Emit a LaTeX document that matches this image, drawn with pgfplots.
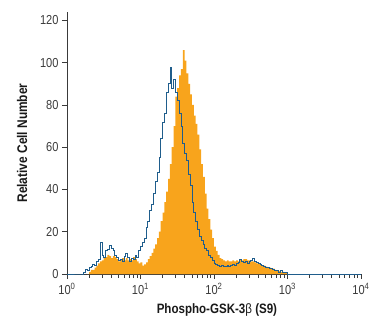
\documentclass[border=0pt]{standalone}
\usepackage{pgfplots}
\pgfplotsset{compat=1.18}
\usepackage{fontspec}
\setmainfont{Liberation Sans}[FakeStretch=0.85]
\definecolor{historange}{HTML}{F8A41C}
\definecolor{histblue}{HTML}{1F5D8C}
\definecolor{axgray}{HTML}{3A3A3A}
\begin{document}
\begin{tikzpicture}
\begin{axis}[
  scale only axis, width=294pt, height=262pt,
  xmin=0, xmax=4, ymin=0, ymax=124,
  axis x line*=bottom, axis y line*=left,
  axis line style={axgray, line width=0.8pt},
  every tick/.style={axgray, line width=0.6pt},
  tick align=outside,
  major tick length=5pt, minor tick length=4pt,
  xtick={0,1,2,3,4},
  xticklabels={10\textsuperscript{0},10\textsuperscript{1},10\textsuperscript{2},10\textsuperscript{3},10\textsuperscript{4}},
  minor xtick={0.30103,0.47712,0.60206,0.69897,0.77815,0.84510,0.90309,0.95424,
    1.30103,1.47712,1.60206,1.69897,1.77815,1.84510,1.90309,1.95424,
    2.30103,2.47712,2.60206,2.69897,2.77815,2.84510,2.90309,2.95424,
    3.30103,3.47712,3.60206,3.69897,3.77815,3.84510,3.90309,3.95424},
  ytick={0,20,40,60,80,100,120},
  /pgf/number format/assume math mode=true,
  tick label style={font=\fontsize{13}{15}\selectfont, text=axgray},
  xticklabel style={yshift=-1pt},
  xlabel={\textbf{Phospho-GSK-3{\mdseries β} (S9)}},
  ylabel={\textbf{Relative Cell Number}},
  label style={text=black!90},
  xlabel style={font=\fontsize{13.6}{15}\selectfont, at={(rel axis cs:0.51,-0.137)}, anchor=center},
  ylabel style={font=\fontsize{14}{16}\selectfont, at={(rel axis cs:-0.153,0.5)}, anchor=center},
  clip=false,
]
\addplot[const plot, fill=historange, draw=none] coordinates {
(0.275,0) (0.300,1) (0.325,2) (0.350,2) (0.375,3) (0.400,4) (0.425,5) (0.450,6)
(0.475,6.5) (0.500,7.5) (0.525,8) (0.550,9) (0.575,8.5) (0.600,7.5) (0.625,8.5)
(0.650,8) (0.675,7) (0.700,6) (0.725,7) (0.750,7.5) (0.775,6.5) (0.800,7.5)
(0.825,6.5) (0.850,7) (0.875,6.5) (0.900,8) (0.925,7) (0.950,6) (0.975,5)
(1.000,5.5) (1.025,4) (1.050,4.5) (1.075,5.5) (1.100,7) (1.125,8.5) (1.150,10)
(1.175,12) (1.200,14) (1.225,17) (1.250,20) (1.275,25) (1.300,29) (1.325,34)
(1.350,39) (1.375,45) (1.400,52) (1.425,60) (1.450,70) (1.475,84) (1.500,88)
(1.525,94) (1.550,97) (1.575,106) (1.600,101) (1.625,95) (1.650,90) (1.675,85)
(1.700,80) (1.725,75) (1.750,71) (1.775,66) (1.800,59) (1.825,52) (1.850,46)
(1.875,38) (1.900,31) (1.925,26) (1.950,21) (1.975,17) (2.000,13) (2.025,11)
(2.050,9) (2.075,7.5) (2.100,7) (2.125,6.5) (2.150,6) (2.175,6.5) (2.200,6)
(2.225,6) (2.250,6.5) (2.275,6) (2.300,6.5) (2.325,6) (2.350,7) (2.375,6.5)
(2.400,7) (2.425,7) (2.450,6.5) (2.475,6.5) (2.500,6) (2.525,6) (2.550,5.5)
(2.575,5) (2.600,5) (2.625,4.5) (2.650,4) (2.675,4) (2.700,3.5) (2.725,3)
(2.750,3) (2.775,2.5) (2.800,2.5) (2.825,2) (2.850,1.5) (2.875,1.5) (2.900,1)
(2.925,1) (2.950,0.5) (2.975,0.5) (3.000,0)
} \closedcycle;
\addplot[const plot, draw=histblue, line width=0.7pt] coordinates {
(0.000,0) (0.200,0) (0.225,1) (0.250,2) (0.275,1.5) (0.300,3) (0.325,3.5)
(0.350,4.5) (0.375,4) (0.400,6) (0.425,7) (0.450,15) (0.475,9) (0.500,8)
(0.525,11) (0.550,11.5) (0.575,13.5) (0.600,12) (0.625,11) (0.650,9) (0.675,8)
(0.700,6.5) (0.725,7) (0.750,6) (0.775,8.5) (0.800,10) (0.825,8) (0.850,6)
(0.875,7.5) (0.900,7) (0.925,9) (0.950,8) (0.975,11) (1.000,13) (1.025,15)
(1.050,17) (1.075,22) (1.100,25) (1.125,30) (1.150,33) (1.175,38) (1.200,44)
(1.225,48) (1.250,55) (1.275,64) (1.300,72) (1.325,76) (1.350,86) (1.375,90)
(1.400,98) (1.425,88) (1.450,92) (1.475,86) (1.500,82) (1.525,76) (1.550,70)
(1.575,62) (1.600,57) (1.625,54) (1.650,47) (1.675,42) (1.700,34) (1.725,29)
(1.750,25) (1.775,21) (1.800,18) (1.825,16) (1.850,14) (1.875,12) (1.900,11)
(1.925,9) (1.950,8) (1.975,6.5) (2.000,5) (2.025,4.5) (2.050,4) (2.075,3.5)
(2.100,4) (2.125,3.5) (2.150,3.5) (2.175,4) (2.200,3.5) (2.225,4) (2.250,4.5)
(2.275,4) (2.300,5) (2.325,5.5) (2.350,7) (2.375,6) (2.400,5.5) (2.425,6)
(2.450,5) (2.475,6) (2.500,6.5) (2.525,7.5) (2.550,6) (2.575,5.5) (2.600,5)
(2.625,4.5) (2.650,4) (2.675,3.5) (2.700,3) (2.725,3) (2.750,2.5) (2.775,2.5)
(2.800,2) (2.825,1.5) (2.850,1.5) (2.875,1) (2.900,1.5) (2.925,1) (2.950,1)
(2.975,1) (3.000,0) (4.000,0)
};
\end{axis}
\pgfresetboundingbox
\path (-67pt,-48pt) rectangle (303pt,274pt);
\end{tikzpicture}
\end{document}
